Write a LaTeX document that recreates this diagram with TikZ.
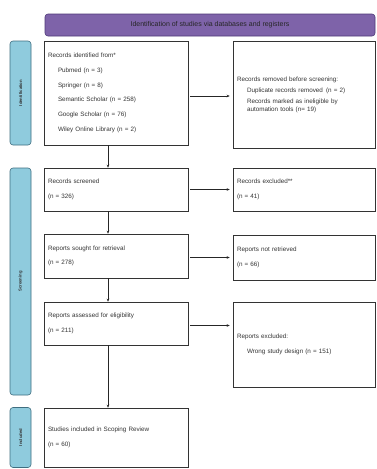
\documentclass[tikz,border=0pt]{standalone}
\usepackage{fontspec}
\setmainfont{Liberation Sans}
\usetikzlibrary{positioning,arrows.meta}

\definecolor{hdrfill}{HTML}{7E63A9}
\definecolor{hdrline}{HTML}{4E3A78}
\definecolor{stagefill}{HTML}{8FCBDD}
\definecolor{stageline}{HTML}{3F6E80}

\tikzset{
  box/.style={draw=black!80, line width=0.6pt, minimum width=144pt,
    text width=136pt, align=left, inner sep=4pt,
    font=\fontsize{6.3}{7.4}\selectfont, text=black!80},
  rbox/.style={box, minimum width=142pt, text width=134pt},
  stage/.style={draw=stageline, fill=stagefill, line width=0.6pt,
    rounded corners=3pt, rotate=90, minimum height=21pt,
    font=\fontsize{4.2}{5}\selectfont\bfseries, text=black!80},
  flow/.style={-{Stealth[length=3pt,width=2.6pt]}, line width=0.6pt, black!85}
}

\newcommand{\ind}{\hspace*{10pt}}

\begin{document}
\begin{tikzpicture}[x=1pt, y=1pt]
    \useasboundingbox (0,0) rectangle (376,-469);

    % Header
    \node[draw=hdrline, fill=hdrfill, line width=0.6pt, rounded corners=3pt,
      minimum width=330pt, minimum height=22pt, text=black!85,
      font=\fontsize{7}{8}\selectfont] (hdr) at (210,-25)
      {Identification of studies via databases and registers};

    % Stages
    \node[stage, minimum width=104pt] (sid) at (20.5,-93) {Identification};
    \node[stage, minimum width=227pt] (sscr) at (20.5,-281.5) {Screening};
    \node[stage, minimum width=60pt] (sinc) at (20.5,-437.5) {Included};

    % Left column
    \node[box, minimum height=104pt] (rec) at (116,-93)
      {Records identified from*\\[7.3pt]
       \ind Pubmed (n = 3)\\[7.3pt]
       \ind Springer (n = 8)\\[7.3pt]
       \ind Semantic Scholar (n = 258)\\[7.3pt]
       \ind Google Scholar (n = 76)\\[7.3pt]
       \ind Wiley Online Library (n = 2)};
    \node[box, minimum height=43pt, below of=rec, node distance=96.5pt] (scr)
      {Records screened\\[7pt] (n = 326)};
    \node[box, minimum height=44pt, below of=scr, node distance=66.5pt] (sought)
      {Reports sought for retrieval\\[7pt] (n = 278)};
    \node[box, minimum height=43pt, below of=sought, node distance=67.5pt] (elig)
      {Reports assessed for eligibility\\[7pt] (n = 211)};
    \node[box, minimum height=59pt, below of=elig, node distance=114pt] (inc)
      {Studies included in Scoping Review\\[7pt] (n = 60)};

    % Right column
    \node[rbox, minimum height=107pt] (rem) at (304,-94.5)
      {Records removed before screening:\\[4pt]
       \ind Duplicate records removed\enspace(n = 2)\\[4pt]
       \ind Records marked as ineligible by\\
       \ind automation tools (n= 19)};
    \node[rbox, minimum height=43pt] (exc) at (304,-189.5)
      {Records excluded**\\[7pt] (n = 41)};
    \node[rbox, minimum height=45pt] (notret) at (304,-257.5)
      {Reports not retrieved\\[7pt] (n = 66)};
    \node[rbox, minimum height=85pt] (rexc) at (304,-344.5)
      {Reports excluded:\\[7pt]
       \ind Wrong study design (n = 151)};

    % Arrows down
    \draw[flow] ([xshift=-8pt]rec.south) -- ([xshift=-8pt]scr.north);
    \draw[flow] ([xshift=-8pt]scr.south) -- ([xshift=-8pt]sought.north);
    \draw[flow] ([xshift=-8pt]sought.south) -- ([xshift=-8pt]elig.north);
    \draw[flow] ([xshift=-8pt]elig.south) -- ([xshift=-8pt]inc.north);

    % Arrows across
    \draw[flow, shorten >=3pt, shorten <=2pt] ([yshift=-3pt]rec.east) -- ([yshift=-3pt]rec.east -| rem.west);
    \draw[flow, shorten >=3pt, shorten <=2pt] (scr.east) -- (scr.east -| exc.west);
    \draw[flow, shorten >=3pt, shorten <=2pt] ([yshift=-1.5pt]sought.east) -- ([yshift=-1.5pt]sought.east -| notret.west);
    \draw[flow, shorten >=3pt, shorten <=2pt] ([yshift=-2pt]elig.east) -- ([yshift=-2pt]elig.east -| rexc.west);

\end{tikzpicture}
\end{document}
